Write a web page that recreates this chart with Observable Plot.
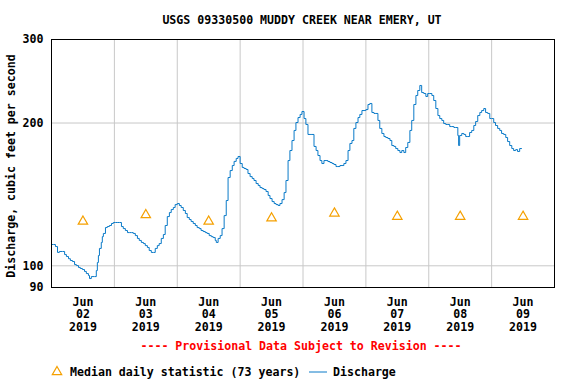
<!DOCTYPE html>
<html>
<head>
<meta charset="utf-8">
<script src="https://cdn.jsdelivr.net/npm/d3@7"></script>
<script src="https://cdn.jsdelivr.net/npm/@observablehq/plot@0.6"></script>
<style>
  html, body { margin: 0; padding: 0; background: white; }
</style>
</head>
<body>
<div id="chart"></div>
<script>
// ---- Data ----
const title = "USGS 09330500 MUDDY CREEK NEAR EMERY, UT";
const yLabel = "Discharge, cubic feet per second";
const provisional = "---- Provisional Data Subject to Revision ----";
const legendMedian = "Median daily statistic (73 years)";
const legendDischarge = "Discharge";

const startDate = "2019-06-02T00:00:00Z";
const endDate = "2019-06-10T00:00:00Z";
const dayLabels = ["2019-06-02", "2019-06-03", "2019-06-04", "2019-06-05", "2019-06-06", "2019-06-07", "2019-06-08", "2019-06-09"];
const medianValues = [124, 128, 124, 126, 129, 127, 127, 127];
const yTicks = [90, 100, 200, 300];

// hours since 2019-06-02 00:00 and discharge (cfs)
const hours = [0, 0.76, 1.5, 2.3, 3.0, 4.2, 5.0, 5.7, 6.5, 7.2, 8.0, 8.8, 9.5, 10.3, 11.0, 11.8, 12.6, 13.3, 14.1, 14.5, 15.2, 16.4, 17.1, 17.5, 17.9, 18.3, 19.0, 19.4, 19.8, 20.6, 21.3, 22.1, 22.9, 23.6, 24.4, 25.1, 25.9, 26.7, 27.4, 28.2, 29.0, 29.7, 30.5, 31.2, 32.0, 32.8, 33.5, 34.3, 35.1, 35.8, 36.6, 37.3, 38.1, 38.9, 39.6, 40.4, 41.1, 41.9, 42.7, 43.4, 44.2, 45.0, 45.7, 46.5, 47.2, 48.0, 48.8, 49.5, 50.3, 51.1, 51.8, 52.6, 53.3, 54.1, 54.9, 55.6, 56.4, 57.1, 57.9, 58.7, 59.4, 60.2, 61.0, 61.7, 62.5, 62.9, 63.6, 64.4, 65.1, 65.9, 66.7, 67.4, 68.2, 69.0, 69.7, 70.5, 71.2, 72.0, 72.8, 73.5, 74.3, 75.0, 75.8, 76.6, 77.3, 78.1, 78.9, 79.6, 80.4, 81.1, 81.9, 82.7, 83.4, 84.2, 85.0, 85.7, 86.5, 87.2, 88.0, 88.8, 89.5, 90.3, 91.0, 91.8, 92.6, 93.3, 94.1, 94.9, 95.6, 96.4, 97.1, 97.9, 98.7, 99.4, 100.2, 101.0, 101.7, 102.5, 103.2, 104.0, 104.8, 105.5, 106.3, 107.1, 107.8, 108.6, 109.3, 110.1, 110.9, 111.6, 112.4, 113.2, 113.9, 114.7, 115.4, 116.2, 117.0, 117.7, 118.5, 119.3, 120.0, 120.8, 121.5, 122.3, 123.1, 123.8, 124.6, 125.3, 126.1, 126.9, 127.6, 128.4, 129.2, 129.9, 130.7, 131.4, 132.2, 133.0, 133.7, 134.5, 135.2, 136.0, 136.8, 137.5, 138.3, 139.1, 139.8, 140.6, 141.3, 142.1, 142.9, 143.6, 144.4, 145.2, 145.9, 146.7, 147.5, 148.2, 149.0, 149.7, 150.5, 151.3, 152.0, 152.8, 153.6, 154.3, 155.1, 155.4, 155.8, 156.6, 157.4, 158.1, 158.9, 159.6, 160.4, 161.2, 161.9, 162.7, 163.5, 164.2, 165.0, 165.7, 166.5, 167.3, 168.0, 168.8, 169.5, 170.3, 171.1, 171.8, 172.6, 173.4, 174.1, 174.9, 175.7, 176.4, 177.2, 177.9, 178.7, 179.5];
const flows = [110.9, 110.9, 109.8, 106.7, 107.2, 107.2, 105.6, 104.6, 103.5, 102.6, 102.1, 100.6, 100.1, 99.2, 98.7, 98.2, 97.3, 96.3, 95.4, 94.0, 94.9, 94.9, 97.7, 101.6, 105.1, 108.8, 112.0, 115.2, 117.0, 120.4, 121.0, 121.6, 122.8, 123.4, 123.4, 123.4, 123.4, 121.0, 119.8, 118.7, 117.5, 117.5, 117.5, 117.0, 115.8, 114.2, 113.1, 112.0, 111.4, 110.3, 109.3, 107.7, 106.7, 106.7, 108.8, 110.3, 111.4, 114.2, 116.4, 121.6, 127.0, 129.5, 131.4, 132.7, 134.6, 135.3, 134.0, 132.7, 130.8, 128.9, 126.4, 125.2, 124.0, 122.8, 121.6, 120.4, 119.8, 118.7, 118.1, 117.5, 117.0, 115.8, 115.2, 114.7, 113.1, 112.0, 114.2, 115.8, 119.8, 127.6, 137.3, 153.5, 158.8, 162.7, 166.0, 168.4, 170.0, 164.3, 161.2, 160.4, 159.6, 156.5, 154.2, 152.8, 151.3, 149.1, 147.7, 146.2, 145.5, 144.8, 143.4, 140.7, 138.6, 136.6, 135.3, 134.6, 134.0, 135.3, 137.9, 142.7, 151.3, 166.7, 175.0, 183.7, 192.9, 200.5, 205.4, 208.5, 211.5, 204.4, 198.6, 189.2, 189.2, 189.2, 178.5, 175.0, 170.8, 166.7, 164.3, 166.7, 166.7, 165.9, 165.1, 164.3, 163.5, 161.9, 161.9, 162.7, 162.7, 164.3, 166.7, 175.0, 181.1, 183.7, 194.8, 200.5, 205.4, 208.5, 212.5, 212.5, 213.5, 218.8, 219.9, 210.5, 209.5, 209.5, 202.5, 194.8, 190.1, 187.3, 186.4, 185.5, 183.7, 179.3, 178.5, 176.7, 175.0, 173.3, 175.0, 173.3, 177.6, 182.0, 192.9, 202.5, 218.8, 228.6, 234.2, 240.0, 231.9, 230.8, 227.5, 230.8, 230.8, 228.6, 223.1, 214.6, 207.4, 204.4, 202.5, 199.5, 198.6, 198.6, 196.6, 196.6, 195.7, 195.7, 188.2, 179.3, 188.2, 190.1, 189.2, 187.3, 187.3, 191.0, 192.9, 197.6, 201.5, 207.4, 210.5, 212.5, 214.6, 210.5, 209.5, 204.4, 204.4, 200.5, 197.6, 194.8, 192.9, 190.1, 189.2, 186.4, 182.8, 179.3, 176.7, 175.0, 175.8, 174.2, 176.7, 176.7];

// ---- Build tables ----
const start = new Date(startDate);
const end = new Date(endDate);
const series = hours.map((h, i) => ({date: new Date(start.getTime() + h * 3600e3), value: flows[i]}));
const noons = dayLabels.map(d => new Date(d + "T12:00:00Z"));
const medians = noons.map((d, i) => ({date: d, value: medianValues[i]}));
const midnights = dayLabels.slice(1).map(d => new Date(d + "T00:00:00Z"));

const FONT = "DejaVu Sans Mono";
const FS = "11.6px";
const LINE_COLOR = "#0a7ac8";
const MED_COLOR = "#f5a000";

const fmtX = d => "Jun\n" + d3.utcFormat("%d")(d) + "\n" + d3.utcFormat("%Y")(d);

const chart = Plot.plot({
  width: 576,
  height: 384,
  marginTop: 39,
  marginBottom: 97,
  marginLeft: 51,
  marginRight: 22,
  style: {fontFamily: FONT, fontWeight: "bold", fontSize: FS, background: "white", color: "black"},
  x: {type: "utc", domain: [start, end]},
  y: {type: "log", domain: [90, 300], clamp: true, axis: null},
  marks: [
    Plot.gridX(midnights, {stroke: "#c8c8c8", strokeOpacity: 1, strokeWidth: 1}),
    Plot.gridY([100, 200], {stroke: "#c8c8c8", strokeOpacity: 1, strokeWidth: 1}),
    Plot.text(yTicks, {x: start, y: d => d, text: d => String(d), textAnchor: "end", dx: -8, fontWeight: "bold", fontSize: FS}),
    Plot.axisX(noons, {tickSize: 0, tickPadding: 9, label: null, tickFormat: fmtX, lineHeight: 1.1}),
    Plot.line(series, {x: "date", y: "value", stroke: LINE_COLOR, strokeWidth: 1, curve: "step-after"}),
    Plot.dot(medians, {x: "date", y: "value", symbol: "triangle", r: 3.5, stroke: MED_COLOR, strokeWidth: 1.2, fill: "none"}),
    Plot.frame({stroke: "black", strokeWidth: 1})
  ]
});

const svg = d3.select(chart);
function addText(x, y, str, opts = {}) {
  return svg.append("text")
    .attr("x", x).attr("y", y)
    .attr("text-anchor", opts.anchor || "start")
    .attr("dominant-baseline", "central")
    .attr("font-family", FONT).attr("font-weight", "bold").attr("font-size", FS)
    .attr("fill", opts.fill || "black")
    .text(str);
}

addText(302, 20, title, {anchor: "middle"});

svg.append("text")
  .attr("transform", "translate(11,166) rotate(-90)")
  .attr("text-anchor", "middle").attr("dominant-baseline", "central")
  .attr("font-family", FONT).attr("font-weight", "bold").attr("font-size", FS)
  .attr("fill", "black")
  .text(yLabel);

addText(301, 346, provisional, {anchor: "middle", fill: "#ff0000"});

// legend
const legY = 372;
svg.append("path")
  .attr("d", d3.symbol(d3.symbolTriangle, Math.PI * 3.5 * 3.5)())
  .attr("transform", `translate(57,${legY})`)
  .attr("fill", "none").attr("stroke", MED_COLOR).attr("stroke-width", 1.2);
addText(70, legY, legendMedian);
svg.append("line")
  .attr("x1", 309).attr("x2", 327).attr("y1", legY).attr("y2", legY)
  .attr("stroke", LINE_COLOR).attr("stroke-width", 1);
addText(333, legY, legendDischarge);

document.getElementById("chart").appendChild(chart);
</script>
</body>
</html>
